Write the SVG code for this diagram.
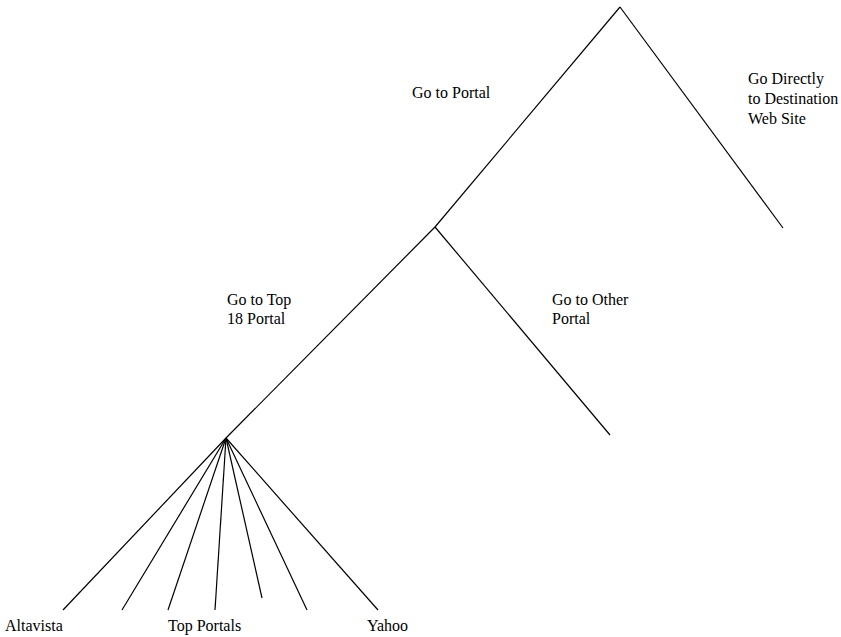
<svg xmlns="http://www.w3.org/2000/svg" width="841" height="637" viewBox="0 0 841 637">
<style>
.l{stroke:#000;stroke-width:1.2;fill:none}
text{font-family:"Liberation Serif","Times New Roman",serif;font-size:16px;fill:#000}
</style>
<rect width="841" height="637" fill="#fff"/>
<g id="connectors">
<line class="l" x1="620" y1="7" x2="435" y2="227"/>
<line class="l" x1="620" y1="7" x2="783" y2="228"/>
<line class="l" x1="435" y1="227" x2="226" y2="438"/>
<line class="l" x1="435" y1="227" x2="610" y2="435"/>
<line class="l" x1="226" y1="438" x2="63" y2="610"/>
<line class="l" x1="226" y1="438" x2="122" y2="610"/>
<line class="l" x1="226" y1="438" x2="168" y2="610"/>
<line class="l" x1="226" y1="438" x2="215" y2="610"/>
<line class="l" x1="226" y1="438" x2="262" y2="598"/>
<line class="l" x1="226" y1="438" x2="307" y2="610"/>
<line class="l" x1="226" y1="438" x2="378" y2="610"/>
</g>
<g id="n-root"><text x="412" y="98">Go to Portal</text></g>
<g id="n-direct"><text x="748" y="84">Go Directly</text><text x="748" y="104">to Destination</text><text x="748" y="124">Web Site</text></g>
<g id="n-top18"><text x="227" y="305">Go to Top</text><text x="227" y="324">18 Portal</text></g>
<g id="n-other"><text x="552" y="305">Go to Other</text><text x="552" y="324">Portal</text></g>
<g id="n-altavista"><text x="5" y="631">Altavista</text></g>
<g id="n-topportals"><text x="168" y="631">Top Portals</text></g>
<g id="n-yahoo"><text x="367" y="631">Yahoo</text></g>
</svg>
